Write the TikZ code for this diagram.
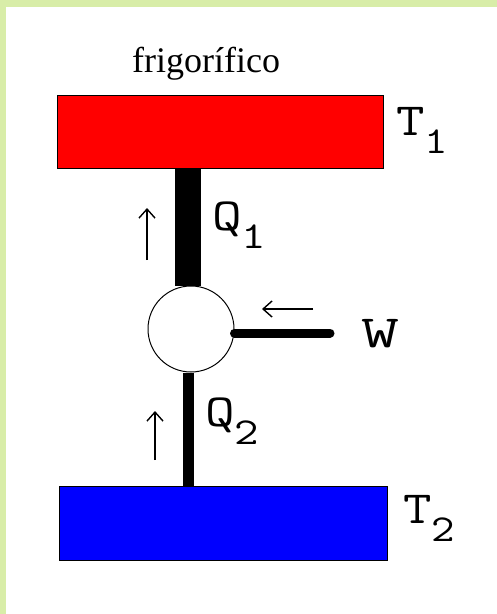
\documentclass[tikz,border=0pt]{standalone}
\usepackage{fontspec}
\setmainfont{Liberation Serif}
\usepackage{tikz}
\usetikzlibrary{shapes,arrows,arrows.meta,positioning}
\definecolor{framegreen}{RGB}{216,237,168}

\tikzset{
  reservoir/.style={draw=black,line width=1.2pt,inner sep=0,anchor=north west},
  flow/.style={-{Straight Barb[length=9pt,width=16pt]},line width=1.4pt},
  label/.style={anchor=base west,inner sep=0,font=\ttfamily\fontsize{46}{46}\selectfont}
}
\newcommand{\lowsub}[1]{\raisebox{-18pt}{\fontsize{38}{38}\selectfont #1}}
\newcommand{\wide}[2][1.2]{\scalebox{#1}[1]{#2}}

\begin{document}
\begin{tikzpicture}[x=1pt,y=-1pt]
  % frame
  \useasboundingbox (0,0) rectangle (497,614);
  \fill[framegreen] (0,0) rectangle (497,614);
  \fill[white] (6,7) rectangle (497,614);

  % reservoirs
  \node[reservoir,fill=red,minimum width=326pt,minimum height=73pt] (hot) at (57,95) {};
  \node[reservoir,fill=blue,minimum width=328pt,minimum height=74pt] (cold) at (59,486) {};

  % machine
  \node[draw,circle,line width=1pt,fill=white,minimum size=86pt,inner sep=0] (machine) at (191,329) {};
  \coordinate (wend) at (330,333);

  % heat and work bars
  \draw[line width=26pt] ([xshift=-3pt]machine.north) -- ([xshift=-3pt]machine.north |- hot.south);
  \draw[line width=11pt] ([xshift=-3pt]machine.south) -- ([xshift=-3pt]machine.south |- cold.north);
  \draw[line width=9pt,line cap=round] ([yshift=-4pt]machine.east) -- (wend);

  % small arrows
  \coordinate (q1a) at (147,260);
  \coordinate (q1b) at (147,208);
  \coordinate (q2a) at (155,460);
  \coordinate (q2b) at (155,411);
  \coordinate (wa) at (313,309);
  \coordinate (wb) at (262,309);
  \draw[flow] (q1a) -- (q1b);
  \draw[flow] (q2a) -- (q2b);
  \draw[flow] (wa) -- (wb);

  % labels
  \node[anchor=base west,inner sep=0,font=\fontsize{36}{36}\selectfont] (title) at (132,72) {frigorífico};
  \node[label] (t1) at (396,135) {\wide{T\lowsub{1}}};
  \node[label] (q1) at (212,230) {\wide[1.25]{Q\lowsub{1}}};
  \node[label] (w) at (361,347) {\wide[1.6]{W}};
  \node[label] (q2) at (205,426) {\wide[1.25]{Q\lowsub{2}}};
  \node[label] (t2) at (403,523) {\wide{T\lowsub{2}}};
\end{tikzpicture}
\end{document}
